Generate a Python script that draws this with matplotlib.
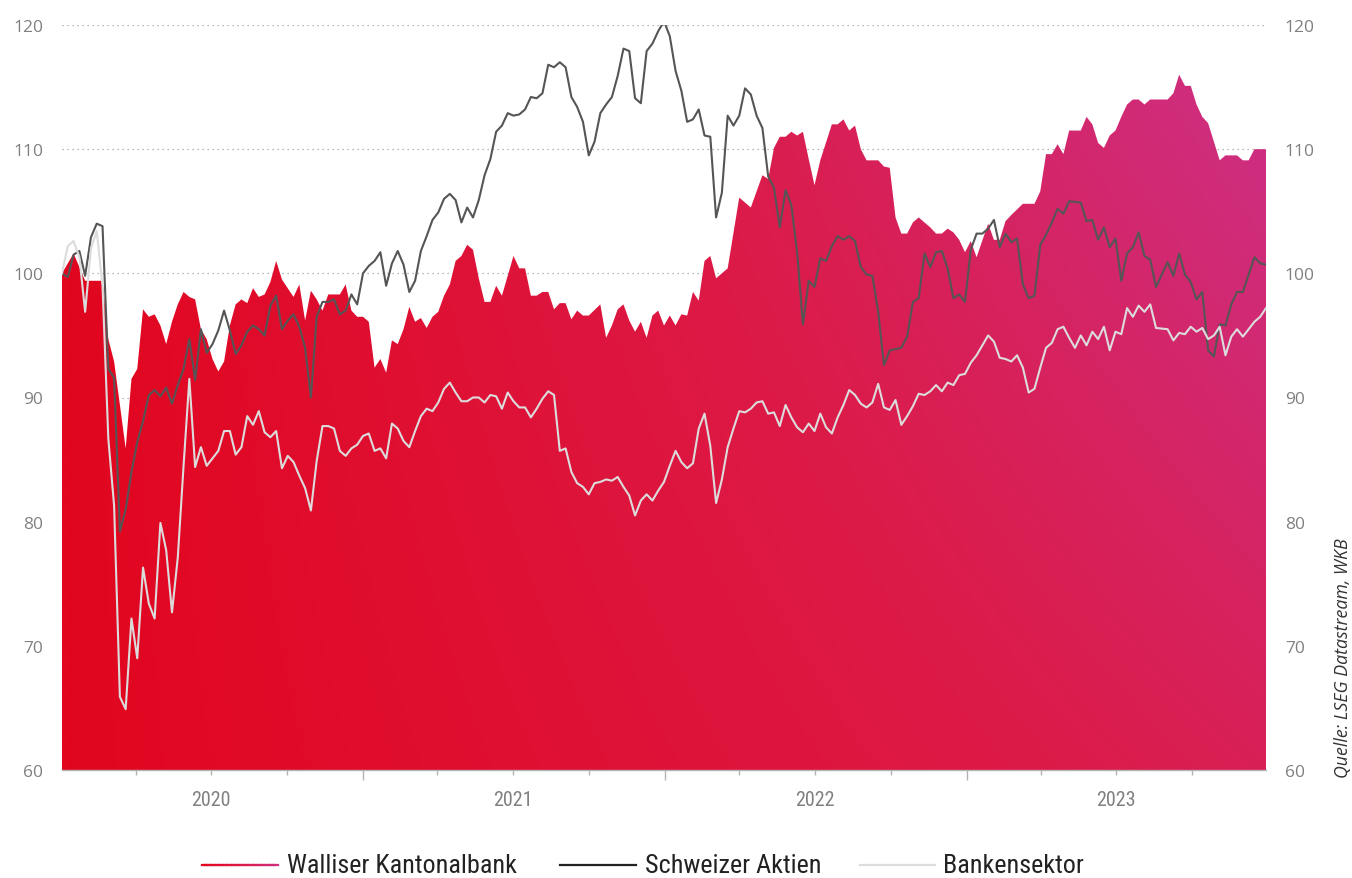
import numpy as np
import pandas as pd
import matplotlib
matplotlib.use("Agg")
import matplotlib.pyplot as plt
import matplotlib.dates as mdates
from matplotlib import font_manager
from matplotlib.colors import LinearSegmentedColormap
from matplotlib.collections import LineCollection
from matplotlib.lines import Line2D
from matplotlib.ticker import FuncFormatter

# weekly index, 209 Fridays starting 2020-01-03
first_week = "2020-01-03"
n_weeks = 209

# Walliser Kantonalbank (filled area), week index -> value
wkb_weeks = [
    0, 2, 4, 7, 8, 9, 11, 12, 13, 14,
    15, 16, 17, 18, 19, 20, 21, 22, 23, 24,
    25, 26, 27, 28, 29, 30, 31, 32, 33, 34,
    35, 36, 37, 38, 40, 41, 42, 43, 44, 45,
    46, 48, 49, 50, 51, 52, 53, 54, 55, 56,
    57, 58, 59, 60, 61, 62, 63, 64, 65, 66,
    67, 68, 69, 70, 71, 72, 73, 74, 75, 76,
    77, 78, 79, 80, 81, 82, 83, 84, 85, 86,
    87, 88, 89, 90, 91, 93, 94, 95, 96, 97,
    98, 99, 100, 101, 102, 103, 104, 105, 106, 107,
    108, 109, 110, 111, 112, 113, 115, 117, 119, 121,
    122, 123, 124, 125, 126, 127, 128, 129, 130, 131,
    133, 134, 135, 136, 137, 138, 139, 141, 142, 143,
    144, 145, 146, 147, 148, 150, 151, 152, 153, 154,
    155, 156, 157, 158, 160, 161, 162, 163, 164, 166,
    168, 169, 170, 171, 172, 173, 174, 176, 177, 178,
    179, 180, 181, 182, 183, 184, 185, 186, 187, 188,
    191, 192, 193, 194, 195, 196, 197, 198, 199, 200,
    201, 203, 204, 205, 206, 208,
]
wkb_values = [
    100.0, 101.6, 99.4, 99.4, 94.7, 92.9, 85.9, 91.5, 92.3, 97.1,
    96.5, 96.7, 95.8, 94.3, 96.1, 97.5, 98.5, 98.1, 97.9, 95.5,
    94.7, 93.1, 92.1, 92.9, 95.8, 97.5, 97.9, 97.6, 98.8, 98.1,
    98.3, 99.3, 101.0, 99.5, 98.1, 99.1, 96.2, 98.6, 97.9, 97.0,
    98.3, 98.3, 99.1, 97.0, 96.5, 96.5, 96.1, 92.4, 93.1, 92.0,
    94.6, 94.3, 95.5, 97.3, 96.1, 96.4, 95.6, 96.5, 96.9, 98.2,
    99.1, 101.0, 101.4, 102.3, 101.9, 99.6, 97.7, 97.7, 99.0, 98.2,
    99.8, 101.4, 100.4, 100.4, 98.2, 98.2, 98.5, 98.5, 97.1, 97.6,
    97.6, 96.3, 97.0, 96.6, 96.6, 97.5, 94.8, 95.8, 97.1, 97.5,
    96.2, 95.3, 96.1, 94.8, 96.6, 97.0, 95.8, 96.6, 95.8, 96.7,
    96.6, 98.5, 97.8, 101.0, 101.4, 99.6, 100.4, 106.1, 105.3, 107.9,
    107.6, 110.1, 111.0, 111.0, 111.4, 111.1, 111.4, 109.2, 107.1, 109.1,
    112.0, 112.0, 112.4, 111.5, 111.9, 110.0, 109.1, 109.1, 108.6, 108.5,
    104.5, 103.2, 103.2, 104.1, 104.5, 103.7, 103.2, 103.2, 103.6, 103.3,
    102.7, 101.7, 102.6, 101.3, 104.0, 102.7, 102.7, 104.2, 104.7, 105.6,
    105.6, 106.6, 109.6, 109.6, 110.4, 109.6, 111.5, 111.5, 112.6, 112.0,
    110.5, 110.1, 111.1, 111.5, 112.6, 113.6, 114.0, 114.0, 113.6, 114.0,
    114.0, 114.5, 116.0, 115.1, 115.1, 113.6, 112.6, 112.1, 110.6, 109.1,
    109.5, 109.5, 109.1, 109.1, 110.0, 110.0,
]

# Schweizer Aktien (dark line)
spi_weeks = [w for w in range(n_weeks) if w not in (144, 175, 190)]
spi_values = [
    100.0, 99.7, 101.5, 101.8, 99.8, 102.9, 104.0, 103.8, 92.3, 91.6,
    79.2, 81.0, 84.0, 86.4, 88.1, 90.2, 90.6, 90.1, 90.8, 89.5,
    91.0, 92.3, 94.7, 91.4, 95.5, 93.6, 94.3, 95.4, 97.0, 95.4,
    93.5, 94.2, 95.3, 95.8, 95.5, 95.0, 97.4, 98.2, 95.5, 96.2,
    96.7, 95.7, 94.0, 90.0, 96.5, 97.7, 97.7, 97.9, 96.7, 97.0,
    98.3, 97.5, 100.0, 100.6, 101.0, 101.7, 99.0, 100.8, 101.8, 100.7,
    98.5, 99.4, 101.8, 103.0, 104.3, 104.9, 106.0, 106.4, 105.9, 104.1,
    105.3, 104.5, 105.9, 107.9, 109.2, 111.4, 111.9, 112.9, 112.7, 112.8,
    113.2, 114.2, 114.1, 114.5, 116.8, 116.6, 117.0, 116.6, 114.2, 113.4,
    112.2, 109.5, 110.6, 112.9, 113.6, 114.2, 115.9, 118.1, 117.9, 114.1,
    113.7, 117.9, 118.5, 119.5, 120.3, 119.1, 116.3, 114.7, 112.2, 112.4,
    113.2, 111.1, 111.0, 104.5, 106.5, 112.7, 111.9, 112.7, 114.9, 114.4,
    112.7, 111.7, 107.8, 106.9, 103.7, 106.7, 105.5, 101.7, 95.9, 99.4,
    98.9, 101.2, 101.0, 102.2, 103.0, 102.7, 103.0, 102.6, 100.5, 99.9,
    99.8, 96.9, 92.6, 93.8, 94.0, 94.9, 97.7, 98.0, 101.6,
    100.5, 101.7, 101.8, 100.4, 98.0, 98.3, 97.7, 101.9, 103.2, 103.2,
    103.6, 104.3, 102.1, 103.2, 102.5, 102.8, 99.1, 98.0, 98.2, 102.3,
    103.1, 104.1, 105.2, 104.8, 105.8, 105.7, 104.2, 104.3, 102.7,
    103.7, 102.1, 102.8, 99.4, 101.6, 102.1, 103.3, 101.4, 101.1, 98.9,
    100.9, 99.8, 101.6, 99.9, 99.3, 97.9, 98.5, 93.8, 93.3,
    95.9, 95.8, 97.5, 98.5, 98.5, 99.9, 101.3, 100.8, 100.7,
]

# Bankensektor (light line)
bank_weeks = [w for w in range(n_weeks) if w != 190]
bank_values = [
    100.0, 102.2, 102.6, 101.3, 96.9, 102.0, 103.4, 99.0, 86.7, 81.3,
    65.9, 64.9, 72.2, 69.0, 76.3, 73.4, 72.2, 79.9, 77.7, 72.7,
    77.1, 84.5, 91.5, 84.4, 86.0, 84.5, 85.1, 85.7, 87.3, 87.3,
    85.4, 86.0, 88.5, 87.8, 88.9, 87.2, 86.8, 87.3, 84.3, 85.3,
    84.8, 83.7, 82.7, 80.9, 84.9, 87.7, 87.7, 87.5, 85.7, 85.3,
    85.9, 86.2, 86.9, 87.1, 85.7, 85.9, 85.1, 87.9, 87.5, 86.5,
    86.0, 87.3, 88.5, 89.1, 88.9, 89.6, 90.7, 91.2, 90.4, 89.7,
    89.7, 90.0, 90.0, 89.6, 90.2, 90.1, 89.1, 90.4, 89.7, 89.2,
    89.2, 88.4, 89.1, 89.9, 90.5, 90.2, 85.7, 85.9, 84.0, 83.1,
    82.8, 82.2, 83.1, 83.2, 83.4, 83.3, 83.6, 82.8, 82.1, 80.5,
    81.7, 82.2, 81.7, 82.5, 83.2, 84.5, 85.7, 84.8, 84.3, 84.7,
    87.5, 88.7, 86.1, 81.5, 83.4, 86.0, 87.5, 88.9, 88.8, 89.1,
    89.6, 89.7, 88.7, 88.8, 87.7, 89.4, 88.4, 87.6, 87.2, 87.9,
    87.3, 88.7, 87.6, 87.1, 88.4, 89.4, 90.6, 90.2, 89.5, 89.2,
    89.6, 91.1, 89.2, 89.0, 89.8, 87.8, 88.5, 89.3, 90.3, 90.2,
    90.5, 91.0, 90.5, 91.2, 91.0, 91.8, 91.9, 92.8, 93.4, 94.2,
    95.0, 94.5, 93.2, 93.1, 92.9, 93.4, 92.4, 90.4, 90.7, 92.4,
    94.0, 94.4, 95.5, 95.7, 94.8, 94.0, 95.0, 94.2, 95.3, 94.7,
    95.7, 93.8, 95.3, 95.1, 97.2, 96.5, 97.4, 96.9, 97.5, 95.6,
    95.5, 94.6, 95.2, 95.1, 95.7, 95.3, 95.6, 94.7, 95.0,
    95.7, 93.4, 94.9, 95.5, 94.9, 95.5, 96.1, 96.5, 97.2,
]

legend_labels = ["Walliser Kantonalbank", "Schweizer Aktien", "Bankensektor"]
y_ticks = [60, 70, 80, 90, 100, 110, 120]
source_text = "Quelle: LSEG Datastream, WKB"

assert len(wkb_weeks) == len(wkb_values)
assert len(spi_weeks) == len(spi_values)
assert len(bank_weeks) == len(bank_values)

W, H = 1352, 879
TICK_GREY = "#808080"
AXIS_GREY = "#b3b3b3"
LINE_DARK = "#555555"
LINE_LIGHT = "#dcdcdc"
wkb_cmap = LinearSegmentedColormap.from_list(
    "wkb", ["#e2061f", "#dc1b49", "#cc3189"])


def narrow_font(size):
    """
    Schmale Schrift suchen, sonst Lato (relativ schmal) verwenden.
    """
    fonts = font_manager.fontManager.ttflist
    names = {f.name for f in fonts}
    for name in ["Liberation Sans Narrow", "Roboto Condensed",
                 "Open Sans Condensed", "Noto Sans Condensed"]:
        if name in names:
            return font_manager.FontProperties(family=name, size=size)
    for f in fonts:
        if f.name == "DejaVu Sans" and str(f.stretch) in ("condensed", "semi-condensed"):
            return font_manager.FontProperties(family="DejaVu Sans",
                                               stretch="condensed", size=size)
    return font_manager.FontProperties(family="Lato", size=size)


def main():
    all_dates = pd.date_range(first_week, periods=n_weeks, freq="7D")
    x_wkb = mdates.date2num(all_dates[wkb_weeks])
    x_spi = mdates.date2num(all_dates[spi_weeks])
    x_bank = mdates.date2num(all_dates[bank_weeks])
    x0, x1 = mdates.date2num(all_dates[0]), mdates.date2num(all_dates[-1])

    fig = plt.figure(figsize=(W / 100, H / 100), dpi=100)
    ax = fig.add_axes([62 / W, 1 - 771 / H, (1266 - 62) / W, (771 - 26) / H])

    # gradient filled area (red bottom-left -> magenta top-right)
    poly = ax.fill_between(x_wkb, 60, wkb_values, color="none", lw=0)
    gx, gy = np.meshgrid(np.linspace(0, 1, 600), np.linspace(0, 1, 300))
    grad = gx * (0.6 + 0.4 * gy)
    im = ax.imshow(grad, extent=[x0, x1, 60, 120], origin="lower",
                   aspect="auto", cmap=wkb_cmap, vmin=0, vmax=1,
                   interpolation="bilinear", zorder=1)
    im.set_clip_path(poly.get_paths()[0], transform=ax.transData)

    ax.plot(x_spi, spi_values, color=LINE_DARK, lw=1.5, zorder=3)
    ax.plot(x_bank, bank_values, color=LINE_LIGHT, lw=1.5, zorder=3)

    ax.set_xlim(x0, x1)
    ax.set_ylim(60, 120)
    ax.set_yticks(y_ticks)
    ax.yaxis.grid(True, linestyle=(0, (1, 3)), color="#a0a0a0", lw=0.9)
    ax.set_axisbelow(True)

    for side in ("top", "left", "right"):
        ax.spines[side].set_visible(False)
    ax.spines["bottom"].set_color(AXIS_GREY)
    ax.spines["bottom"].set_linewidth(1.0)
    ax.spines["bottom"].set_zorder(4)

    ax.tick_params(axis="y", left=False, right=False, labelleft=True,
                   labelright=True, labelsize=12.5, labelcolor=TICK_GREY,
                   pad=10)
    for lab in ax.get_yticklabels():
        lab.set_family(["Open Sans", "DejaVu Sans"])

    ax.xaxis.set_major_locator(mdates.YearLocator())
    ax.xaxis.set_minor_locator(mdates.MonthLocator(bymonth=[4, 7, 10]))
    ax.xaxis.set_major_formatter(FuncFormatter(lambda v, p: ""))
    ax.xaxis.set_minor_formatter(FuncFormatter(
        lambda v, p: str(mdates.num2date(v).year)
        if mdates.num2date(v).month == 7 else ""))
    ax.tick_params(axis="x", which="major", length=7, width=1.0,
                   color=AXIS_GREY)
    ax.tick_params(axis="x", which="minor", length=3.5, width=1.0,
                   color=AXIS_GREY, labelcolor=TICK_GREY, pad=11)
    year_font = narrow_font(14.5)
    for lab in ax.xaxis.get_minorticklabels():
        lab.set_fontproperties(year_font)

    # source note on the right
    fig.text(1343 / W, 1 - 778 / H, source_text, rotation=90, ha="center",
             va="bottom", fontsize=12.8, style="italic", color="#333333",
             family=["Open Sans", "DejaVu Sans"])

    # legend drawn by hand (gradient line for the area series)
    ly = 1 - 866 / H
    lx = np.linspace(202 / W, 278 / W, 30)
    segs = [[(lx[i], ly), (lx[i + 1], ly)] for i in range(len(lx) - 1)]
    lc = LineCollection(segs, colors=wkb_cmap(np.linspace(0, 0.9, len(segs))),
                        linewidths=1.6, capstyle="projecting",
                        transform=fig.transFigure)
    fig.add_artist(lc)
    fig.add_artist(Line2D([560 / W, 636 / W], [ly, ly], color="#222222",
                          lw=1.6, transform=fig.transFigure))
    fig.add_artist(Line2D([860 / W, 935 / W], [ly, ly], color=LINE_LIGHT,
                          lw=1.6, transform=fig.transFigure))
    legend_font = narrow_font(18.8)
    text_base = 1 - 873 / H
    for x_px, label in zip([287, 645, 943], legend_labels):
        fig.text(x_px / W, text_base, label, ha="left", va="baseline",
                 color="#222222", fontproperties=legend_font)

    fig.savefig("out.png", dpi=100)
    plt.close(fig)


if __name__ == "__main__":
    main()
